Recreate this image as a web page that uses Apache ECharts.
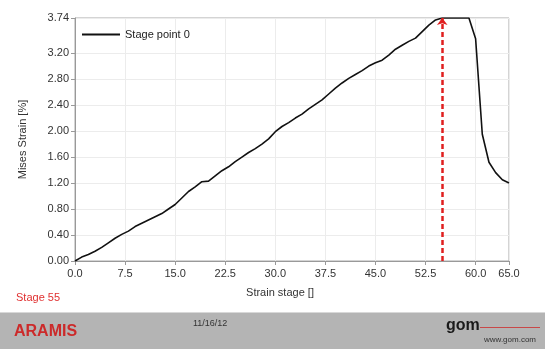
<!DOCTYPE html>
<html>
<head>
<meta charset="utf-8">
<script src="https://cdn.jsdelivr.net/npm/echarts@6/dist/echarts.min.js"></script>
<style>
  html, body { margin: 0; padding: 0; background: #fff; }
  #chart { width: 545px; height: 349px; }
</style>
</head>
<body>
<div id="chart"></div>
<script>
// Mises strain of stage point 0 over the strain stages
const stages = [
  0, 1, 2, 3, 4, 5, 6, 7, 8, 9,
  10, 11, 12, 13, 14, 15, 16, 17, 18, 19,
  20, 21, 22, 23, 24, 25, 26, 27, 28, 29,
  30, 31, 32, 33, 34, 35, 36, 37, 38, 39,
  40, 41, 42, 43, 44, 45, 46, 47, 48, 49,
  50, 51, 52, 53, 54, 55, 56, 57, 58, 59,
  60, 61, 62, 63, 64, 65
];
const misesStrain = [
  0.00, 0.06, 0.10, 0.15, 0.21, 0.28, 0.35, 0.41, 0.46, 0.53,
  0.58, 0.63, 0.68, 0.73, 0.80, 0.87, 0.97, 1.07, 1.14, 1.22,
  1.23, 1.31, 1.39, 1.45, 1.53, 1.60, 1.67, 1.73, 1.80, 1.88,
  1.99, 2.07, 2.13, 2.20, 2.26, 2.34, 2.41, 2.48, 2.57, 2.66,
  2.74, 2.81, 2.87, 2.93, 3.00, 3.05, 3.09, 3.17, 3.26, 3.32,
  3.38, 3.43, 3.53, 3.63, 3.71, 3.74, 3.74, 3.74, 3.74, 3.74,
  3.42, 1.95, 1.52, 1.36, 1.25, 1.20
];
const seriesName = 'Stage point 0';
const currentStage = 55;
const yTickLabels = [0, 0.4, 0.8, 1.2, 1.6, 2.0, 2.4, 2.8, 3.2, 3.74];
const yMax = 3.74;
const xMax = 65;
const reportDate = '11/16/12';

const FONT = '"Liberation Sans", Arial, sans-serif';
const chart = echarts.init(document.getElementById('chart'));

chart.setOption({
  animation: false,
  backgroundColor: '#ffffff',
  grid: {
    left: 75, right: 36, top: 18, bottom: 88,
    show: true, borderColor: '#a8a8a8', borderWidth: 1
  },
  legend: {
    left: 77, top: 24,
    itemWidth: 38, itemHeight: 2, itemGap: 6,
    textStyle: { fontFamily: FONT, fontSize: 11, color: '#222' },
    data: [{ name: seriesName, icon: 'rect' }]
  },
  xAxis: {
    type: 'value', min: 0, max: xMax, interval: 7.5,
    name: 'Strain stage []',
    nameLocation: 'middle', nameGap: 26,
    nameTextStyle: { fontFamily: FONT, fontSize: 11, color: '#333', padding: [0, 24, 0, 0] },
    axisLine: { lineStyle: { color: '#999', width: 1 } },
    axisTick: { show: true, length: 4, lineStyle: { color: '#999' } },
    axisLabel: {
      fontFamily: FONT, fontSize: 11, color: '#333', margin: 7,
      formatter: v => v.toFixed(1)
    },
    splitLine: { show: true, lineStyle: { color: '#ececec', width: 1 } }
  },
  yAxis: {
    type: 'value', min: 0, max: yMax, interval: 0.4,
    name: 'Mises Strain [%]',
    nameLocation: 'middle', nameGap: 47,
    nameTextStyle: { fontFamily: FONT, fontSize: 11, color: '#333' },
    axisLine: { show: true, lineStyle: { color: '#999', width: 1 } },
    axisTick: { show: true, length: 4, lineStyle: { color: '#999' }, customValues: yTickLabels },
    axisLabel: {
      fontFamily: FONT, fontSize: 11, color: '#333', margin: 6,
      customValues: yTickLabels,
      formatter: v => v.toFixed(2)
    },
    splitLine: { show: true, lineStyle: { color: '#ececec', width: 1 } }
  },
  series: [{
    name: seriesName,
    type: 'line',
    data: stages.map((s, i) => [s, misesStrain[i]]),
    symbol: 'none',
    lineStyle: { color: '#111', width: 1.6 },
    itemStyle: { color: '#111' },
    clip: true,
    markLine: {
      silent: true,
      symbol: ['none', 'arrow'],
      symbolSize: [8, 7],
      label: { show: false },
      lineStyle: { color: '#e01f1f', width: 2.5, type: [5, 3] },
      data: [{ xAxis: currentStage }]
    }
  }],
  graphic: [
    {
      type: 'text', left: 16, top: 292,
      style: { text: 'Stage ' + currentStage, fontFamily: FONT, fontSize: 11, fill: '#e03030' }
    },
    {
      type: 'rect', left: 0, top: 313,
      shape: { width: 545, height: 36 },
      style: { fill: '#b4b4b4' }
    },
    {
      type: 'rect', left: 0, top: 312,
      shape: { width: 545, height: 1 },
      style: { fill: '#d8d8d8' }
    },
    {
      type: 'text', left: 14, top: 324,
      style: { text: 'ARAMIS', fontFamily: FONT, fontSize: 16, fontWeight: 'bold', fill: '#cc2a2a' }
    },
    {
      type: 'text', left: 193, top: 319,
      style: { text: reportDate, fontFamily: FONT, fontSize: 9, fill: '#333' }
    },
    {
      type: 'text', left: 446, top: 318,
      style: { text: 'gom', fontFamily: FONT, fontSize: 16, fontWeight: 'bold', fill: '#1a1a1a' }
    },
    {
      type: 'rect', left: 480, top: 327,
      shape: { width: 60, height: 1 },
      style: { fill: '#c84848' }
    },
    {
      type: 'text', left: 484, top: 336,
      style: { text: 'www.gom.com', fontFamily: FONT, fontSize: 8, fill: '#333' }
    }
  ]
});
</script>
</body>
</html>
